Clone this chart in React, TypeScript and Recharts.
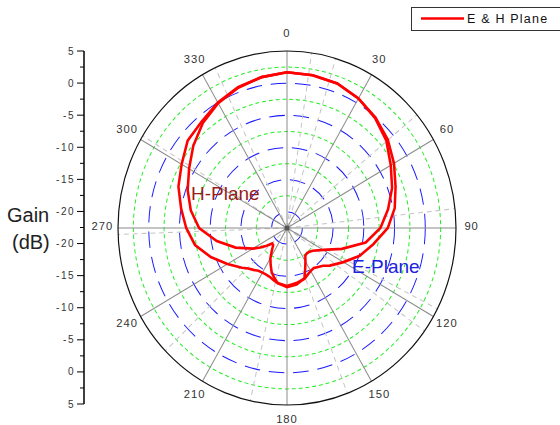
import { RadarChart, Radar, PolarGrid, PolarAngleAxis, PolarRadiusAxis, LineChart, XAxis, YAxis } from "recharts";

// measured pattern, angle in degrees (0 = top, clockwise), gain in dB
const angles = [0, 10, 20, 30, 40, 50, 60, 70, 80, 90, 100, 110, 120, 130, 135, 140, 145, 150, 155, 160, 170, 180, 190, 195, 200, 205, 210, 215, 220, 225, 230, 235, 240, 250, 260, 270, 280, 290, 300, 310, 320, 330, 340, 350];
const hPlane = [1.7, 1.6, 1.4, 0.75, -0.1, -1.1, -2.4, -3.7, -4.7, -6.1, -8.2, -9.9, -11.9, -13.4, -14.2, -14.6, -14.9, -14.8, -14.5, -14.1, -13.8, -13.5, -13.8, -14.1, -14.4, -14.5, -14.5, -14.4, -14.0, -13.6, -12.9, -12.2, -11.3, -9.3, -7.3, -6.1, -5.0, -3.7, -2.7, -1.4, -0.9, 0.0, 0.8, 1.3];
const ePlane = [1.7, 1.6, 1.4, 0.75, -0.2, -1.4, -3.0, -4.3, -5.8, -7.3, -9.5, -13.0, -15.7, -17.0, -17.3, -17.4, -17.3, -16.5, -15.5, -14.2, -13.6, -13.3, -13.8, -14.5, -15.2, -16.2, -17.1, -18.2, -19.0, -19.1, -18.2, -17.2, -16.1, -13.6, -10.9, -8.2, -6.6, -5.3, -4.1, -2.6, -1.2, -0.1, 0.7, 1.3];

const angleTicks = [0, 30, 60, 90, 120, 150, 180, 210, 240, 270, 300, 330];
const minorAngleTicks = [15, 45, 75, 105, 135, 165, 195, 225, 255, 285, 315, 345];
const blueRings = [-20, -15, -10, -5, 0];
const greenRings = [-17.5, -12.5, -7.5, -2.5, 2.5];
const radialDomain = [-22.5, 5];
const gainTicks = [5, 0, -5, -10, -15, -20];
const gainMinor = [2.5, -2.5, -7.5, -12.5, -17.5, -22.5];

const CX = 287;
const CY = 228;
const R = 173;
const SX = 169 / 173;
const SY = 177 / 173;

const data = angles.map((angle, i) => ({ angle, h: hPlane[i], e: ePlane[i] }));

// the gain axis on the left is mirrored: top half and bottom half of the polar plot
const rMin = radialDomain[0];
const axisSpan = radialDomain[1] - rMin;
const majorPos = gainTicks.flatMap((v) => [v - rMin, rMin - v]);
const minorPos = gainMinor.flatMap((v) => (v === rMin ? [0] : [v - rMin, rMin - v]));
const axisTicks = [...majorPos, ...minorPos].sort((a, b) => b - a);
const axisData = axisTicks.map((p) => ({ p }));

const font = "'Liberation Sans', Arial, sans-serif";

const GainTick = (props: any) => {
  const { x, y, payload } = props;
  const p = payload.value;
  const major = majorPos.includes(p);
  return (
    <g>
      <line x1={x - (major ? 7 : 4)} x2={x} y1={y} y2={y} stroke="#000" strokeWidth={1} />
      {major && (
        <text x={x - 9} y={y} dy={3.5} textAnchor="end" fontSize={10} letterSpacing={1.5} fill="#333" fontFamily={font}>
          {rMin + Math.abs(p)}
        </text>
      )}
    </g>
  );
};

const AngleTick = (props: any) => {
  const { x, y, payload } = props;
  const dx = x - CX;
  const dy = y - CY;
  const d = Math.hypot(dx, dy) || 1;
  return (
    <text x={CX + (dx / d) * 189} y={CY - 2 + (dy / d) * 189} textAnchor="middle" dominantBaseline="central" fontSize={11.5} letterSpacing={1} fill="#333" fontFamily={font}>
      {payload.value}
    </text>
  );
};

export default function App() {
  return (
    <div style={{ position: "absolute", left: 0, top: 0, width: 560, height: 425, background: "#fff", overflow: "hidden", fontFamily: font }}>
      <div style={{ position: "absolute", left: 0, top: 0 }}>
        <LineChart width={100} height={425} data={axisData} margin={{ top: 51, right: 0, bottom: 21, left: 0 }}>
          <XAxis dataKey="p" hide />
          <YAxis
            type="number"
            domain={[-axisSpan, axisSpan]}
            ticks={axisTicks}
            interval={0}
            allowDataOverflow
            width={84}
            tickSize={0}
            tickMargin={0}
            tickLine={false}
            axisLine={{ stroke: "#000", strokeWidth: 1.5 }}
            tick={(p: any) => <GainTick {...p} />}
          />
        </LineChart>
      </div>

      <div style={{ position: "absolute", left: 0, top: 0, transform: `scale(${SX}, ${SY})`, transformOrigin: `${CX}px ${CY}px` }}>
        <RadarChart width={560} height={425} data={data} cx={CX} cy={CY} outerRadius={R} margin={{ top: 0, right: 0, bottom: 0, left: 0 }}>
          <PolarRadiusAxis radiusAxisId={0} type="number" domain={radialDomain} allowDataOverflow tick={false} axisLine={false} tickLine={false} />
          <PolarRadiusAxis radiusAxisId="blue" type="number" domain={radialDomain} ticks={blueRings} allowDataOverflow tick={false} axisLine={false} tickLine={false} />
          <PolarRadiusAxis radiusAxisId="green" type="number" domain={radialDomain} ticks={greenRings} allowDataOverflow tick={false} axisLine={false} tickLine={false} />
          <PolarAngleAxis angleAxisId="minor" type="number" domain={[0, 360]} ticks={minorAngleTicks} tick={false} tickLine={false} axisLine={false} />
          <PolarGrid gridType="circle" radiusAxisId="green" radialLines={false} stroke="#22ee22" strokeWidth={1} strokeDasharray="4 3" />
          <PolarGrid gridType="circle" radiusAxisId="blue" radialLines={false} stroke="#1a1aff" strokeWidth={1} strokeDasharray="16 9" />
          <PolarGrid angleAxisId="minor" polarRadius={[]} stroke="#c4c4c4" strokeDasharray="5 4" />
          <PolarGrid angleAxisId={0} polarRadius={[]} stroke="#8a8a8a" />
          <PolarAngleAxis
            angleAxisId={0}
            dataKey="angle"
            type="number"
            domain={[0, 360]}
            ticks={angleTicks}
            axisLineType="circle"
            axisLine={{ stroke: "#111", strokeWidth: 1.2 }}
            tickLine={false}
            tick={(p: any) => <AngleTick {...p} />}
          />
          <Radar dataKey="h" name="H-Plane" stroke="#ff0000" strokeWidth={2.6} fill="none" fillOpacity={0} isAnimationActive={false} />
          <Radar dataKey="e" name="E-Plane" stroke="#ff0000" strokeWidth={2.6} fill="none" fillOpacity={0} isAnimationActive={false} />
        </RadarChart>
      </div>

      <svg width={560} height={425} style={{ position: "absolute", left: 0, top: 0, pointerEvents: "none" }}>
        <circle cx={CX} cy={CY} r={2.5} fill="#555" />
        <text x={7} y={222} fontSize={20} fill="#222" fontFamily={font}>Gain</text>
        <text x={12} y={249} fontSize={20} fill="#222" fontFamily={font}>(dB)</text>
        <text x={191} y={200} fontSize={19} fill="#991c1c" fontFamily={font}>H-Plane</text>
        <text x={352} y={273} fontSize={19} fill="#2020e0" fontFamily={font}>E-Plane</text>
      </svg>

      <div style={{ position: "absolute", left: 411, top: 7, width: 160, height: 22, border: "1px solid #333", background: "#fff" }}>
        <svg width={160} height={22} style={{ position: "absolute", left: 0, top: 0 }}>
          <line x1={9} x2={52} y1={10.5} y2={10.5} stroke="#ff0000" strokeWidth={2.6} />
          <text x={55} y={15} fontSize={12.5} letterSpacing={1.2} fill="#111" fontFamily={font}>E &amp; H Plane</text>
        </svg>
      </div>
    </div>
  );
}
